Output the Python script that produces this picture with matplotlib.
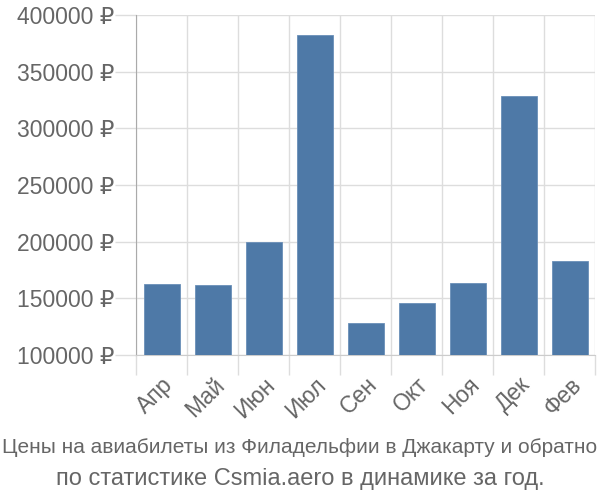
import matplotlib
matplotlib.use("Agg")
import matplotlib.pyplot as plt
from matplotlib.ticker import FuncFormatter, FixedLocator

plt.rcParams['font.family'] = ['Liberation Sans', 'DejaVu Sans']

# Data
months = ["Апр", "Май", "Июн", "Июл", "Сен", "Окт", "Ноя", "Дек", "Фев"]
prices = [162600, 161800, 199700, 382500, 128300, 145900, 163800, 328300, 183000]
y_ticks = [100000, 150000, 200000, 250000, 300000, 350000, 400000]
title_lines = ["Цены на авиабилеты из Филадельфии в Джакарту и обратно",
               "по статистике Csmia.aero в динамике за год."]

text_color = "#666666"
grid_color = "#dddddd"

fig = plt.figure(figsize=(6, 5), dpi=100)
ax = fig.add_axes([0.227, 0.29, 0.765, 0.68])

x = list(range(len(months)))
base = y_ticks[0]
ax.bar(x, [p - base for p in prices], bottom=base, width=0.71,
       color="#4e79a7", edgecolor="#6a8fb8", linewidth=0.6, zorder=3)

ax.set_xlim(-0.5, len(months) - 0.5)
ax.set_ylim(y_ticks[0], y_ticks[-1])

# y axis
ax.set_yticks(y_ticks)
ax.yaxis.set_major_formatter(FuncFormatter(lambda v, _: f"{int(v)} ₽"))
ax.tick_params(axis="y", length=15, width=1, color=grid_color,
               labelsize=16.5, labelcolor=text_color, pad=1)
ax.grid(axis="y", color=grid_color, linewidth=1, zorder=0)

# x axis: labels at centers, grid lines at boundaries
ax.set_xticks(x)
ax.set_xticklabels(months, rotation=45, ha="right", rotation_mode="anchor")
ax.tick_params(axis="x", which="major", length=0, labelsize=16.5,
               labelcolor=text_color, pad=13)
ax.xaxis.set_minor_locator(FixedLocator([i - 0.5 for i in range(len(months) + 1)]))
ax.tick_params(axis="x", which="minor", length=14.5, width=1, color=grid_color)
ax.grid(axis="x", which="minor", color=grid_color, linewidth=1, zorder=0)

for side in ["top", "right"]:
    ax.spines[side].set_visible(False)
ax.spines["bottom"].set_color("#cccccc")
ax.spines["left"].set_color("#aaaaaa")
ax.spines["left"].set_bounds(y_ticks[0], y_ticks[-1])

# caption: first line is squeezed to the figure width in the original
fig.text(0.5, 0.094, title_lines[0], ha="center", va="baseline", fontsize=15,
         color=text_color)
fig.text(0.5, 0.03, title_lines[1], ha="center", va="baseline", fontsize=17,
         color=text_color)

fig.savefig("out.png", dpi=100)
